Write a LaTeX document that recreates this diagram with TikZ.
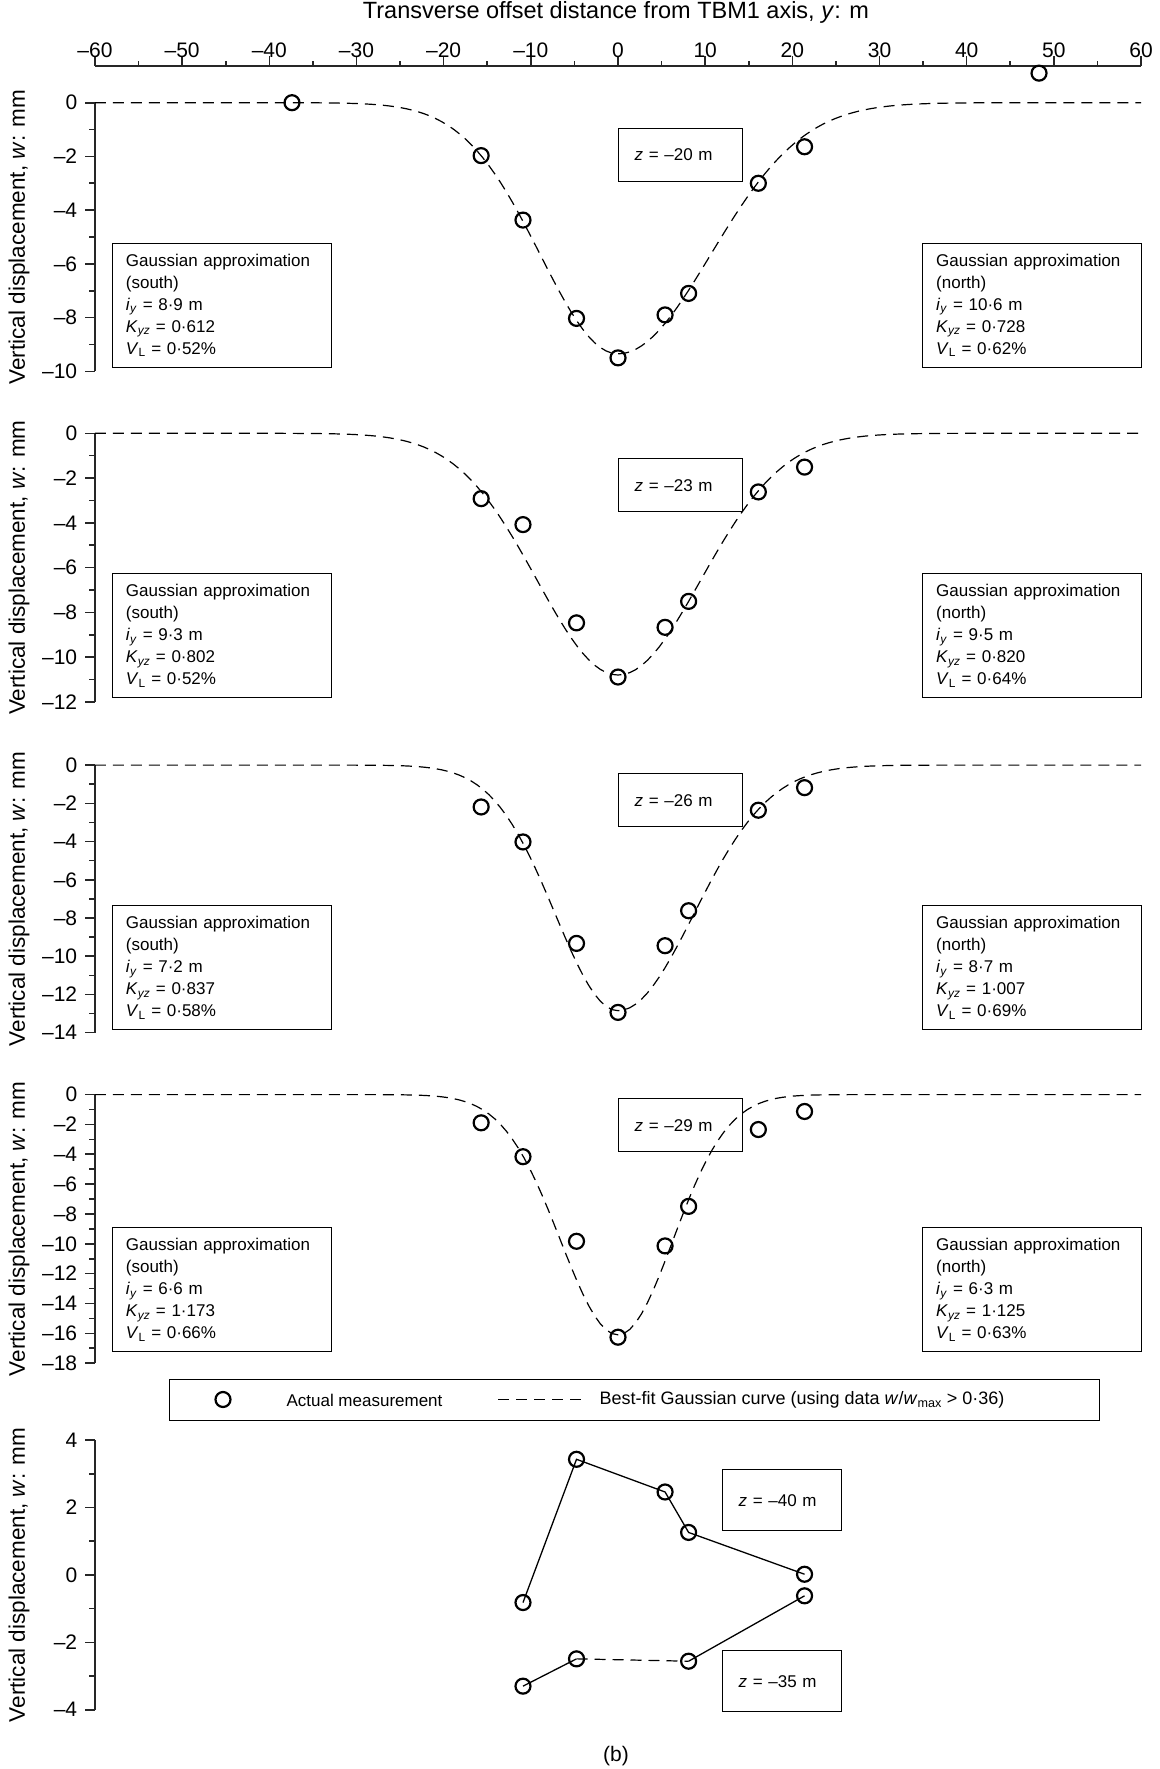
\documentclass[tikz,border=0pt]{standalone}
\usepackage{fontspec}
\setmainfont{Liberation Sans}
\usetikzlibrary{positioning}

\newcommand{\lblfont}{\fontsize{21}{25}\selectfont}
\newcommand{\titlefont}{\fontsize{23.5}{27}\selectfont}
\newcommand{\boxfont}{\fontsize{17}{22}\selectfont}
\newcommand{\wlab}[1]{\ifnum#1<0 --\number-#1\else#1\fi}
\newcommand{\iy}{\textit{i}\textsubscript{\textit{y}}}
\newcommand{\kyz}{\textit{K}\textsubscript{\textit{yz}}}
\newcommand{\vl}{\textit{V}\textsubscript{L}}

\begin{document}
\begin{tikzpicture}[x=1pt, y=-1pt,
    axis/.style={line width=1.6pt, draw=black!85},
    fitline/.style={line width=1.2pt, dash pattern=on 11pt off 7pt},
    joinline/.style={line width=1.3pt},
    meas/.style={circle, draw, line width=2.2pt, minimum size=15pt, inner sep=0pt},
    infobox/.style={draw, line width=1.4pt, anchor=north west, minimum width=219pt,
        minimum height=124pt, text width=192pt, inner xsep=13.5pt, align=left, font=\boxfont},
    zbox/.style={draw, line width=1.4pt, anchor=north west, minimum height=53pt,
        text width=92pt, inner xsep=16pt, align=left, font=\boxfont},
    lbl/.style={font=\lblfont},
    ylbl/.style={font=\fontsize{22.5}{26}\selectfont, rotate=90}]

\useasboundingbox (0,0) rectangle (1159,1769);

% top axis
\node[font=\titlefont] (xtitle) at (616,12) {Transverse offset distance from TBM1 axis, \textit{y}: m};
\draw[axis] (95,66) -- (1141,66);
\foreach \y in {-55,-45,...,55} \draw[axis] ({618+8.717*\y},66) -- ++(0,-5);
\foreach \y in {-60,-50,...,60} {
    \draw[axis] ({618+8.717*\y},66) -- ++(0,-10);
    \node[lbl] (xt\y) at ({618+8.717*\y},50) {\wlab{\y}};
}

% z = -20 m
\begin{scope}[shift={(618,102.7)}, x=8.717pt, y=26.86pt]
    \draw[axis] (-60,0) -- (-60,-10);
    \foreach \w in {-1,-3,...,-9} \draw[axis] (-60,\w) -- ++(-6pt,0pt);
    \foreach \w in {0,-2,...,-10} \draw[axis] (-60,\w) -- ++(-10pt,0pt) node[lbl, left, inner sep=7pt] {\wlab{\w}};
    \draw[fitline] plot[domain=-60:0, samples=90] (\x,{-9.35*exp(-(\x)^2/(2*8.9^2))})
        -- plot[domain=0:60, samples=90] (\x,{-9.35*exp(-(\x)^2/(2*10.6^2))});
    \foreach \y/\w [count=\i] in {-37.4/0, -15.7/-1.97, -10.9/-4.37, -4.76/-8.03, 0/-9.5,
        5.4/-7.9, 8.1/-7.1, 16.1/-3.0, 21.4/-1.64, 48.3/1.1}
        \node[meas] (a\i) at (\y,\w) {};
\end{scope}
\node[ylbl] (ylab1) at (19,237) {Vertical displacement, \textit{w}: mm};
\node[zbox] (z20) at (618,127.5) {\textit{z} = --20 m};
\node[infobox] (s20) at (111.7,242.6) {Gaussian approximation\\(south)\\\iy{} = 8·9 m\\\kyz{} = 0·612\\\vl{} = 0·52\%};
\node[infobox] (n20) at (922,242.6) {Gaussian approximation\\(north)\\\iy{} = 10·6 m\\\kyz{} = 0·728\\\vl{} = 0·62\%};

% z = -23 m
\begin{scope}[shift={(618,433.3)}, x=8.717pt, y=22.38pt]
    \draw[axis] (-60,0) -- (-60,-12);
    \foreach \w in {-1,-3,...,-11} \draw[axis] (-60,\w) -- ++(-6pt,0pt);
    \foreach \w in {0,-2,...,-12} \draw[axis] (-60,\w) -- ++(-10pt,0pt) node[lbl, left, inner sep=7pt] {\wlab{\w}};
    \draw[fitline] plot[domain=-60:0, samples=90] (\x,{-10.8*exp(-(\x)^2/(2*9.3^2))})
        -- plot[domain=0:60, samples=90] (\x,{-10.8*exp(-(\x)^2/(2*9.5^2))});
    \foreach \y/\w [count=\i] in {-15.7/-2.92, -10.9/-4.08, -4.76/-8.47, 0/-10.89,
        5.4/-8.67, 8.1/-7.51, 16.1/-2.62, 21.4/-1.51}
        \node[meas] (b\i) at (\y,\w) {};
\end{scope}
\node[ylbl] (ylab2) at (19,567.6) {Vertical displacement, \textit{w}: mm};
\node[zbox] (z23) at (618,458) {\textit{z} = --23 m};
\node[infobox] (s23) at (111.7,573) {Gaussian approximation\\(south)\\\iy{} = 9·3 m\\\kyz{} = 0·802\\\vl{} = 0·52\%};
\node[infobox] (n23) at (922,573) {Gaussian approximation\\(north)\\\iy{} = 9·5 m\\\kyz{} = 0·820\\\vl{} = 0·64\%};

% z = -26 m
\begin{scope}[shift={(618,765.1)}, x=8.717pt, y=19.11pt]
    \draw[axis] (-60,0) -- (-60,-14);
    \foreach \w in {-1,-3,...,-13} \draw[axis] (-60,\w) -- ++(-6pt,0pt);
    \foreach \w in {0,-2,...,-14} \draw[axis] (-60,\w) -- ++(-10pt,0pt) node[lbl, left, inner sep=7pt] {\wlab{\w}};
    \draw[fitline] plot[domain=-60:0, samples=90] (\x,{-12.85*exp(-(\x)^2/(2*7.2^2))})
        -- plot[domain=0:60, samples=90] (\x,{-12.85*exp(-(\x)^2/(2*8.7^2))});
    \foreach \y/\w [count=\i] in {-15.7/-2.19, -10.9/-4.02, -4.76/-9.33, 0/-12.94,
        5.4/-9.45, 8.1/-7.62, 16.1/-2.36, 21.4/-1.18}
        \node[meas] (c\i) at (\y,\w) {};
\end{scope}
\node[ylbl] (ylab3) at (19,898.9) {Vertical displacement, \textit{w}: mm};
\node[zbox] (z26) at (618,773) {\textit{z} = --26 m};
\node[infobox] (s26) at (111.7,905) {Gaussian approximation\\(south)\\\iy{} = 7·2 m\\\kyz{} = 0·837\\\vl{} = 0·58\%};
\node[infobox] (n26) at (922,905) {Gaussian approximation\\(north)\\\iy{} = 8·7 m\\\kyz{} = 1·007\\\vl{} = 0·69\%};

% z = -29 m
\begin{scope}[shift={(618,1094.6)}, x=8.717pt, y=14.92pt]
    \draw[axis] (-60,0) -- (-60,-18);
    \foreach \w in {-1,-3,...,-17} \draw[axis] (-60,\w) -- ++(-6pt,0pt);
    \foreach \w in {0,-2,...,-18} \draw[axis] (-60,\w) -- ++(-10pt,0pt) node[lbl, left, inner sep=7pt] {\wlab{\w}};
    \draw[fitline] plot[domain=-60:0, samples=90] (\x,{-16.1*exp(-(\x)^2/(2*6.6^2))})
        -- plot[domain=0:60, samples=90] (\x,{-16.1*exp(-(\x)^2/(2*6.3^2))});
    \foreach \y/\w [count=\i] in {-15.7/-1.89, -10.9/-4.16, -4.76/-9.83, 0/-16.26,
        5.4/-10.14, 8.1/-7.49, 16.1/-2.34, 21.4/-1.13}
        \node[meas] (d\i) at (\y,\w) {};
\end{scope}
\node[ylbl] (ylab4) at (19,1228.9) {Vertical displacement, \textit{w}: mm};
\node[zbox] (z29) at (618,1098) {\textit{z} = --29 m};
\node[infobox] (s29) at (111.7,1227) {Gaussian approximation\\(south)\\\iy{} = 6·6 m\\\kyz{} = 1·173\\\vl{} = 0·66\%};
\node[infobox] (n29) at (922,1227) {Gaussian approximation\\(north)\\\iy{} = 6·3 m\\\kyz{} = 1·125\\\vl{} = 0·63\%};

% legend
\node[draw, line width=1.4pt, anchor=north west, minimum width=930pt, minimum height=41pt] (legend) at (169,1379) {};
\node[meas] (lgc) at (223,1399.5) {};
\node[font=\boxfont, anchor=west] (lgm) at (283,1400) {Actual measurement};
\coordinate (lgd1) at (498,1399.5);
\coordinate (lgd2) at (585,1399.5);
\draw[fitline] (lgd1) -- (lgd2);
\node[font=\fontsize{18}{22}\selectfont, anchor=west] (lgf) at (596,1400) {Best-fit Gaussian curve (using data \textit{w}/\textit{w}\textsubscript{max} > 0·36)};

% z = -35 m and z = -40 m
\begin{scope}[shift={(618,1574.9)}, x=8.717pt, y=33.71pt]
    \draw[axis] (-60,4) -- (-60,-4);
    \foreach \w in {3,1,-1,-3} \draw[axis] (-60,\w) -- ++(-6pt,0pt);
    \foreach \w in {4,2,0,-2,-4} \draw[axis] (-60,\w) -- ++(-10pt,0pt) node[lbl, left, inner sep=7pt] {\wlab{\w}};
    \foreach \y/\w [count=\i] in {-10.9/-0.82, -4.76/3.43, 5.4/2.46, 8.1/1.26, 21.4/0.02}
        \coordinate (e\i) at (\y,\w);
    \foreach \y/\w [count=\i] in {-10.9/-3.30, -4.76/-2.49, 8.1/-2.56, 21.4/-0.62}
        \coordinate (f\i) at (\y,\w);
    \draw[joinline] (e1) -- (e2) -- (e3) -- (e4) -- (e5);
    \draw[joinline] (f1) -- (f2);
    \draw[fitline] (f2) -- (f3);
    \draw[joinline] (f3) -- (f4);
    \foreach \i in {1,...,5} \node[meas] (me\i) at (e\i) {};
    \foreach \i in {1,...,4} \node[meas] (mf\i) at (f\i) {};
\end{scope}
\node[ylbl] (ylab5) at (19,1574.9) {Vertical displacement, \textit{w}: mm};
\node[zbox, minimum height=61pt, text width=86.5pt] (z40) at (722,1469) {\textit{z} = --40 m};
\node[zbox, minimum height=61pt, text width=86.5pt] (z35) at (722,1650) {\textit{z} = --35 m};

\node[lbl] (cap) at (616,1756) {(b)};
\end{tikzpicture}
\end{document}
